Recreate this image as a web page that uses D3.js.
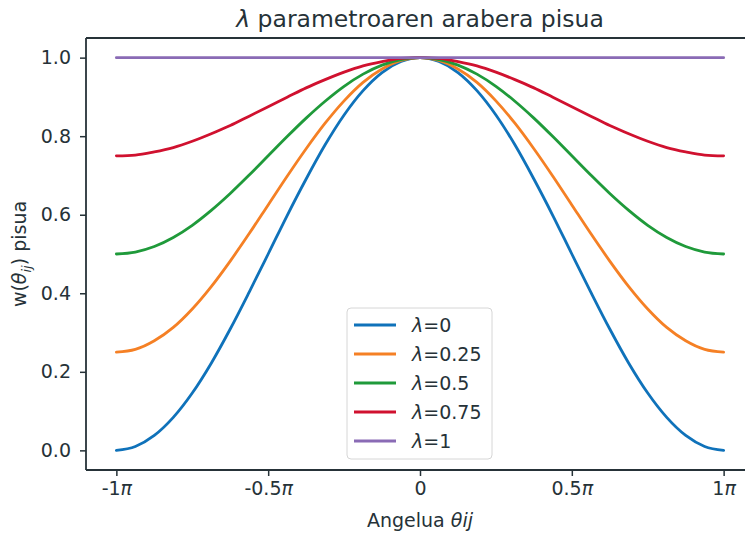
<!DOCTYPE html>
<html>
<head>
<meta charset="utf-8">
<script src="https://cdn.jsdelivr.net/npm/d3@7"></script>
<style>
  body { margin: 0; background: #fff; }
  text { font-family: "DejaVu Sans", sans-serif; fill: #263238; }
</style>
</head>
<body>
<svg id="drawing_region"></svg>
<script>
// angle in units of pi, step 1/16
const thetas = [-1, -0.9375, -0.875, -0.8125, -0.75, -0.6875, -0.625, -0.5625, -0.5,
                -0.4375, -0.375, -0.3125, -0.25, -0.1875, -0.125, -0.0625, 0,
                0.0625, 0.125, 0.1875, 0.25, 0.3125, 0.375, 0.4375, 0.5,
                0.5625, 0.625, 0.6875, 0.75, 0.8125, 0.875, 0.9375, 1];
const lambdas = ['0', '0.25', '0.5', '0.75', '1'];
const w0   = [0, 0.010, 0.038, 0.084, 0.146, 0.222, 0.309, 0.403, 0.5, 0.598, 0.691, 0.778, 0.854, 0.916, 0.962, 0.990, 1,
              0.990, 0.962, 0.916, 0.854, 0.778, 0.691, 0.598, 0.5, 0.403, 0.309, 0.222, 0.146, 0.084, 0.038, 0.010, 0];
const w025 = [0.25, 0.257, 0.279, 0.313, 0.360, 0.417, 0.482, 0.552, 0.625, 0.698, 0.768, 0.833, 0.890, 0.937, 0.971, 0.993, 1,
              0.993, 0.971, 0.937, 0.890, 0.833, 0.768, 0.698, 0.625, 0.552, 0.482, 0.417, 0.360, 0.313, 0.279, 0.257, 0.25];
const w05  = [0.5, 0.505, 0.519, 0.542, 0.573, 0.611, 0.654, 0.701, 0.75, 0.799, 0.846, 0.889, 0.927, 0.958, 0.981, 0.995, 1,
              0.995, 0.981, 0.958, 0.927, 0.889, 0.846, 0.799, 0.75, 0.701, 0.654, 0.611, 0.573, 0.542, 0.519, 0.505, 0.5];
const w075 = [0.75, 0.752, 0.760, 0.771, 0.787, 0.806, 0.827, 0.851, 0.875, 0.899, 0.923, 0.944, 0.963, 0.979, 0.990, 0.998, 1,
              0.998, 0.990, 0.979, 0.963, 0.944, 0.923, 0.899, 0.875, 0.851, 0.827, 0.806, 0.787, 0.771, 0.760, 0.752, 0.75];
const w1   = [1, 1, 1, 1, 1, 1, 1, 1, 1, 1, 1, 1, 1, 1, 1, 1, 1,
              1, 1, 1, 1, 1, 1, 1, 1, 1, 1, 1, 1, 1, 1, 1, 1];
const series = [w0, w025, w05, w075, w1];
const colors = ['#0f72ba', '#f58025', '#1f9a3a', '#d0112f', '#8a6bb5'];
const xTicks = [-1, -0.5, 0, 0.5, 1];
const xTickLabels = ['-1', '-0.5', '0', '0.5', '1'];
const yTicks = [0, 0.2, 0.4, 0.6, 0.8, 1.0];

const width = 745, height = 534;
const margin = { top: 38, right: -9, bottom: 64, left: 86 };
const ink = '#263238';

const svg = d3.select('#drawing_region')
    .attr('width', width)
    .attr('height', height);

const inner_width = width - margin.left - margin.right;
const inner_height = height - margin.top - margin.bottom;

const chart = svg.append('g')
    .attr('transform', `translate(${margin.left}, ${margin.top})`);

const xscale = d3.scaleLinear().domain([-1.1, 1.1]).range([0, inner_width]);
const yscale = d3.scaleLinear().domain([-0.05, 1.05]).range([inner_height, 0]);

// x axis
const xaxis = d3.axisBottom(xscale)
    .tickValues(xTicks)
    .tickSize(6)
    .tickPadding(6)
    .tickFormat(() => '');
const xg = chart.append('g')
    .attr('transform', `translate(0, ${inner_height})`)
    .call(xaxis);
xg.selectAll('.tick text').each(function(d, i) {
    const t = d3.select(this)
        .style('font-size', '19px')
        .attr('fill', ink);
    t.append('tspan').text(xTickLabels[i]);
    if (xTickLabels[i] !== '0') {
        t.append('tspan').style('font-style', 'italic').text('π');
    }
});

// y axis
const yaxis = d3.axisLeft(yscale)
    .tickValues(yTicks)
    .tickSize(6)
    .tickPadding(9)
    .tickFormat(d3.format('.1f'));
const yg = chart.append('g').call(yaxis);
yg.selectAll('.tick text').style('font-size', '19px').attr('fill', ink);

[xg, yg].forEach(g => {
    g.select('.domain').remove();
    g.selectAll('.tick line').attr('stroke', ink).attr('stroke-width', 1.5);
});

// spines (left, bottom, top; right is outside the picture)
chart.append('line').attr('x1', 0).attr('x2', 0).attr('y1', 0).attr('y2', inner_height)
    .attr('stroke', ink).attr('stroke-width', 1.8);
chart.append('line').attr('x1', 0).attr('x2', inner_width).attr('y1', inner_height).attr('y2', inner_height)
    .attr('stroke', ink).attr('stroke-width', 1.8);
chart.append('line').attr('x1', 0).attr('x2', inner_width).attr('y1', 0).attr('y2', 0)
    .attr('stroke', ink).attr('stroke-width', 1.8);

// curves
const line = d3.line()
    .x((d, i) => xscale(thetas[i]))
    .y(d => yscale(d))
    .curve(d3.curveMonotoneX);

series.forEach((s, i) => {
    chart.append('path')
        .datum(s)
        .attr('fill', 'none')
        .attr('stroke', colors[i])
        .attr('stroke-width', 2.8)
        .attr('stroke-linecap', 'round')
        .attr('d', line);
});

// title
const title = svg.append('text')
    .attr('x', margin.left + inner_width / 2)
    .attr('y', 27)
    .attr('text-anchor', 'middle')
    .style('font-size', '23.5px');
title.append('tspan').style('font-style', 'italic').text('λ');
title.append('tspan').text(' parametroaren arabera pisua');

// x label
const xl = svg.append('text')
    .attr('x', margin.left + inner_width / 2)
    .attr('y', 527)
    .attr('text-anchor', 'middle')
    .style('font-size', '19px');
xl.append('tspan').text('Angelua ');
xl.append('tspan').style('font-style', 'italic').text('θij');

// y label
const yl = svg.append('text')
    .attr('transform', `translate(26, ${margin.top + inner_height / 2}) rotate(-90)`)
    .attr('text-anchor', 'middle')
    .style('font-size', '19px');
yl.append('tspan').text('w(');
yl.append('tspan').style('font-style', 'italic').text('θ');
yl.append('tspan').style('font-style', 'italic').style('font-size', '13px').attr('dy', 5).text('ij');
yl.append('tspan').attr('dy', -5).text(') pisua');

// legend
const legend = svg.append('g').attr('transform', 'translate(347, 308)');
legend.append('rect')
    .attr('width', 145).attr('height', 151)
    .attr('rx', 4)
    .attr('fill', 'white').attr('fill-opacity', 0.8)
    .attr('stroke', '#d6d6d6');
lambdas.forEach((l, i) => {
    const y = 17 + i * 29;
    legend.append('line')
        .attr('x1', 7).attr('x2', 49).attr('y1', y).attr('y2', y)
        .attr('stroke', colors[i]).attr('stroke-width', 2.8);
    const t = legend.append('text')
        .attr('x', 65).attr('y', y + 7)
        .style('font-size', '19px');
    t.append('tspan').style('font-style', 'italic').text('λ');
    t.append('tspan').text('=' + l);
});
</script>
</body>
</html>
